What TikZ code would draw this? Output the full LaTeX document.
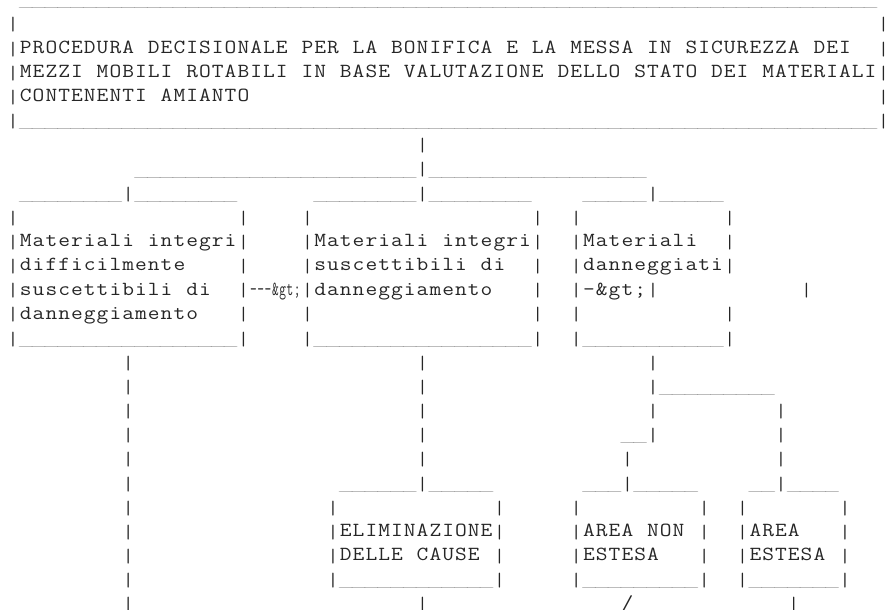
\documentclass[tikz,border=0pt]{standalone}
\usepackage{fontspec}
\usepackage{graphicx}
\newlength\cw
\setlength\cw{9.6pt}
\newcommand\mybar{\makebox[\cw]{\raisebox{-2.5pt}{\resizebox{\width}{11.25pt}{\raisebox{\depth}{|}}}}}
\newcommand\myus{\makebox[\cw][c]{\raisebox{-2.85pt}[0pt][0pt]{\resizebox{1.4\cw}{0.7pt}{\raisebox{\depth}{\char95}}}}}
\ExplSyntaxOn
\cs_new:Npn \my_cell:n #1
  {
    \str_case:nnF {#1}
      {
        {|} {\mybar}
        {_} {\myus}
      }
      { \makebox[\cw]{\scalebox{1.14}[1]{#1}} }
  }
\NewDocumentCommand \Asc {m} { \str_map_inline:nn {#1} { \my_cell:n {##1} } }
\NewDocumentCommand \U {m} { \prg_replicate:nn {#1} { \myus } }
\ExplSyntaxOff
\tikzset{t/.style={anchor=base west,inner sep=0pt,outer sep=0pt,font=\ttfamily\fontsize{15pt}{18pt}\selectfont,text=black!85}}
\newcommand\Bars[2]{\foreach \c in {#2} {\node[t] (v#1-\c) at (\c,#1) {\mybar};}}
\begin{document}
\begin{tikzpicture}[x=9.6pt,y=-18.125pt]
\useasboundingbox (-4.95pt,3.75pt) rectangle (658.8pt,-453.75pt);
% title box
\node[t] (top) at (1,0) {\U{67}};
\Bars{1}{0,68}
\node[t] (t1) at (0,2) {\Asc{|PROCEDURA DECISIONALE PER LA BONIFICA E LA MESSA IN SICUREZZA DEI}};
\Bars{2}{68}
\node[t] (t2) at (0,3) {\Asc{|MEZZI MOBILI ROTABILI IN BASE VALUTAZIONE DELLO STATO DEI MATERIALI|}};
\node[t] (t3) at (0,4) {\Asc{|CONTENENTI AMIANTO}};
\Bars{4}{68}
\node[t] (tb) at (0,5) {\mybar\U{67}\mybar};
% branches
\Bars{6}{32}
\node[t] (r7) at (10,7) {\U{22}\mybar\U{17}};
\node[t] (r8a) at (1,8) {\U{8}\mybar\U{8}};
\node[t] (r8b) at (24,8) {\U{8}\mybar\U{8}};
\node[t] (r8c) at (45,8) {\U{5}\mybar\U{5}};
% three boxes
\Bars{9}{0,18,23,41,44,56}
\node[t] (a1) at (0,10) {\Asc{|Materiali integri|}};
\node[t] (b1) at (23,10) {\Asc{|Materiali integri|}};
\node[t] (c1) at (44,10) {\Asc{|Materiali}};
\Bars{10}{56}
\node[t] (a2) at (0,11) {\Asc{|difficilmente}};
\node[t] (b2) at (23,11) {\Asc{|suscettibili di}};
\node[t] (c2) at (44,11) {\Asc{|danneggiati|}};
\Bars{11}{18,41}
\node[t] (a3) at (0,12) {\Asc{|suscettibili di}};
\node[t] (arr) at (19,12) {\scalebox{0.5714}[1]{\Asc{---&gt;}}};
\node[t] (b3) at (23,12) {\Asc{|danneggiamento}};
\node[t] (c3) at (44,12) {\Asc{|-&gt;|}};
\Bars{12}{18,41,62}
\node[t] (a4) at (0,13) {\Asc{|danneggiamento}};
\Bars{13}{18,23,41,44,56}
\node[t] (a5) at (0,14) {\mybar\U{17}\mybar};
\node[t] (b5) at (23,14) {\mybar\U{17}\mybar};
\node[t] (c5) at (44,14) {\mybar\U{11}\mybar};
% lower lines
\Bars{15}{9,32,50}
\Bars{16}{9,32}
\node[t] (r16) at (50,16) {\mybar\U{9}};
\Bars{17}{9,32,50,60}
\Bars{18}{9,32,60}
\node[t] (r18) at (48,18) {\U{2}\mybar};
\Bars{19}{9,32,48,60}
\Bars{20}{9}
\node[t] (r20a) at (26,20) {\U{6}\mybar\U{5}};
\node[t] (r20b) at (45,20) {\U{3}\mybar\U{5}};
\node[t] (r20c) at (58,20) {\U{2}\mybar\U{4}};
\Bars{21}{9,25,38,44,54,57,65}
\Bars{22}{9,54,65}
\node[t] (d1) at (25,22) {\Asc{|ELIMINAZIONE|}};
\node[t] (e1) at (44,22) {\Asc{|AREA NON}};
\node[t] (f1) at (57,22) {\Asc{|AREA}};
\Bars{23}{9,38,54,65}
\node[t] (d2) at (25,23) {\Asc{|DELLE CAUSE}};
\node[t] (e2) at (44,23) {\Asc{|ESTESA}};
\node[t] (f2) at (57,23) {\Asc{|ESTESA}};
\Bars{24}{9}
\node[t] (d3) at (25,24) {\mybar\U{12}\mybar};
\node[t] (e3) at (44,24) {\mybar\U{9}\mybar};
\node[t] (f3) at (57,24) {\mybar\U{7}\mybar};
\Bars{25}{9,32,61}
\node[t] (sl) at (48,25) {\Asc{/}};
\end{tikzpicture}
\end{document}
